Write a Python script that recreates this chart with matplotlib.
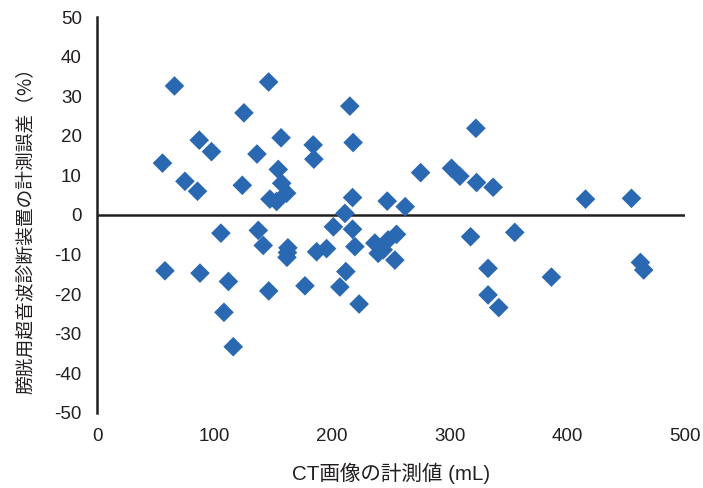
############################################
# Bland-Altman style scatter: bladder scanner error vs CT volume
############################################

import matplotlib
matplotlib.use('Agg')
import matplotlib.pyplot as plt

plt.rcParams['axes.unicode_minus'] = False

# CT volume (mL)
ct_volume = [
    55.7, 57.8, 65.9, 74.8, 85.5, 87.6, 87.0, 97.4, 105.4, 108.0,
    111.8, 115.9, 123.6, 125.0, 136.1, 137.2, 141.4, 146.0, 146.1, 147.1,
    152.8, 154.2, 156.6, 157.1, 161.3, 162.4, 162.0, 161.6, 176.9, 183.9,
    184.5, 186.8, 195.3, 201.1, 206.6, 210.9, 211.7, 215.1, 217.9, 217.4,
    217.4, 219.4, 223.0, 236.4, 239.2, 243.5, 247.7, 246.9, 254.8, 253.4,
    262.2, 275.3, 301.6, 308.7, 317.8, 322.3, 322.9, 332.7, 332.7, 337.0,
    341.8, 355.4, 386.6, 415.6, 454.7, 462.3, 465.1,
]

# measurement error of the bladder scanner (%)
scan_error = [
    13.1, -14.1, 32.6, 8.5, 6.0, -14.7, 18.9, 16.0, -4.6, -24.6,
    -16.8, -33.3, 7.5, 25.8, 15.4, -3.9, -7.7, 33.6, -19.2, 4.0,
    3.4, 11.5, 19.5, 8.0, 5.5, -8.3, -9.5, -10.7, -17.9, 17.7,
    14.1, -9.3, -8.5, -3.0, -18.2, 0.4, -14.3, 27.5, 18.3, 4.4,
    -3.6, -8.0, -22.5, -7.1, -9.7, -8.8, -6.3, 3.5, -4.9, -11.4,
    2.1, 10.7, 11.8, 9.8, -5.5, 21.9, 8.2, -13.5, -20.2, 7.0,
    -23.4, -4.4, -15.7, 4.0, 4.2, -12.0, -13.9,
]

x_ticks = [0, 100, 200, 300, 400, 500]
y_ticks = [-50, -40, -30, -20, -10, 0, 10, 20, 30, 40, 50]

TEXT = '#231f20'
BLUE = '#2a69b2'


def plot_error(x, y, output_path):
    fig = plt.figure(figsize=(7.03, 4.88), dpi=100)
    ax = fig.add_axes([0.138, 0.154, 0.836, 0.811])

    ax.scatter(x, y, marker='D', s=100, color=BLUE, edgecolors='none',
               zorder=3)
    ax.axhline(0, color=TEXT, lw=1.8, zorder=2)

    ax.set_xlim(0, 500)
    ax.set_ylim(-50, 50)
    ax.set_xticks(x_ticks)
    ax.set_yticks(y_ticks)

    for side in ['top', 'right', 'bottom']:
        ax.spines[side].set_visible(False)
    ax.spines['left'].set_color(TEXT)
    ax.spines['left'].set_linewidth(1.8)

    ax.tick_params(axis='both', length=0, labelsize=13.5, colors=TEXT)
    ax.tick_params(axis='y', pad=11)
    ax.tick_params(axis='x', pad=11)
    for lab in ax.get_xticklabels() + ax.get_yticklabels():
        lab.set_family(['Liberation Sans', 'DejaVu Sans'])

    ax.set_xlabel('CT画像の計測値 (mL)', fontsize=14.8, color=TEXT,
                  family=['Liberation Sans', 'Noto Sans CJK JP'], labelpad=13)
    ax.set_ylabel('膀胱用超音波診断装置の計測誤差（%）', fontsize=13.5,
                  color=TEXT, family=['Noto Sans CJK JP', 'DejaVu Sans'])
    ax.yaxis.set_label_coords(-0.105, 0.472)

    fig.savefig(output_path, dpi=100)
    plt.close(fig)


if __name__ == '__main__':
    plot_error(ct_volume, scan_error, 'out.png')
